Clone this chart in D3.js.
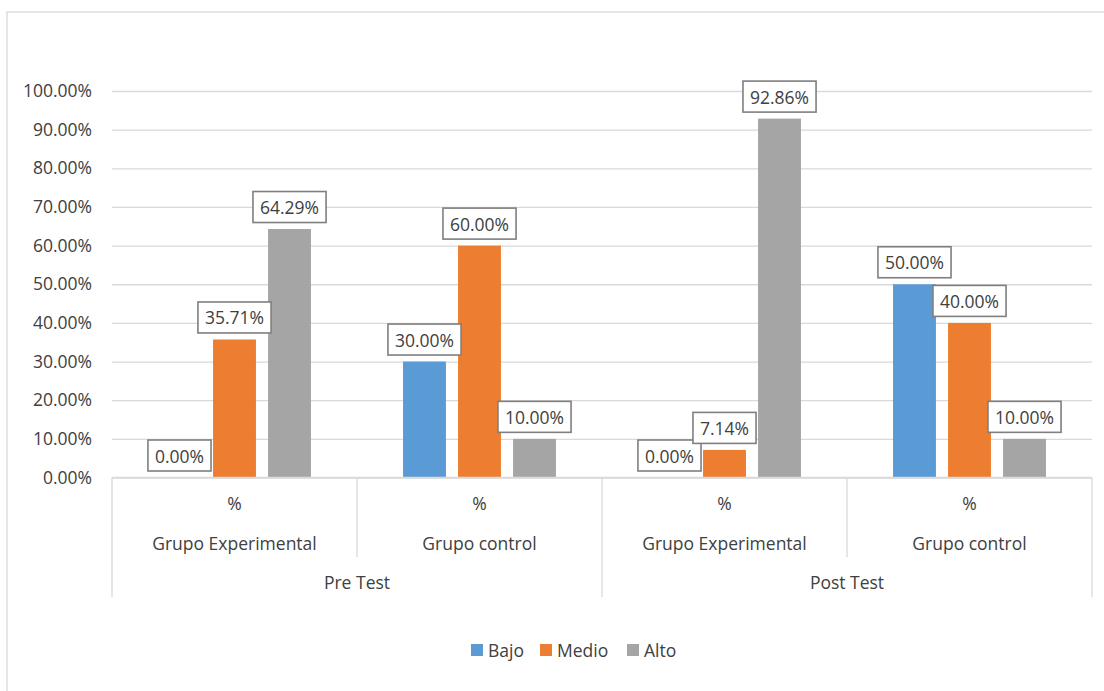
<!DOCTYPE html>
<html>
<head>
<meta charset="utf-8">
<script src="https://cdn.jsdelivr.net/npm/d3@7"></script>
<style>
  html, body { margin: 0; padding: 0; background: #fff; }
  svg text { font-family: "Open Sans", "Noto Sans", sans-serif; fill: #404040; }
</style>
</head>
<body>
<svg id="chart" width="1104" height="691"></svg>
<script>
// ---------------------------------------------------------------------------
// Data
// ---------------------------------------------------------------------------
const series = ["Bajo", "Medio", "Alto"];
const seriesColors = ["#5b9bd5", "#ed7d31", "#a5a5a5"];

const phases = ["Pre Test", "Post Test"];
const groups = ["Grupo Experimental", "Grupo control"];
const subLabel = "%";

// one row per phase/group, values in order Bajo, Medio, Alto
const preExperimental = [0.0, 0.3571, 0.6429];
const preControl = [0.30, 0.60, 0.10];
const postExperimental = [0.0, 0.0714, 0.9286];
const postControl = [0.50, 0.40, 0.10];

const yTicks = [0, 0.1, 0.2, 0.3, 0.4, 0.5, 0.6, 0.7, 0.8, 0.9, 1.0];

// ---------------------------------------------------------------------------
// Build rows
// ---------------------------------------------------------------------------
const rows = [
  { phase: phases[0], group: groups[0], values: preExperimental },
  { phase: phases[0], group: groups[1], values: preControl },
  { phase: phases[1], group: groups[0], values: postExperimental },
  { phase: phases[1], group: groups[1], values: postControl }
].map((r, i) => ({ ...r, key: "c" + i }));

// ---------------------------------------------------------------------------
// Layout
// ---------------------------------------------------------------------------
const svg = d3.select("#chart");
const plot = { left: 112, right: 1092, top: 91, bottom: 477.5 };

const x0 = d3.scaleBand()
  .domain(rows.map(r => r.key))
  .range([plot.left, plot.right]);

const x1 = d3.scaleBand()
  .domain(series)
  .range([0, x0.bandwidth()])
  .paddingInner(0.22)
  .paddingOuter(0.837);

const y = d3.scaleLinear()
  .domain([0, 1])
  .range([plot.bottom, plot.top]);

const color = d3.scaleOrdinal().domain(series).range(seriesColors);
const pct = d3.format(".2%");

// chart frame (extends past the picture on the right / bottom)
svg.append("rect")
  .attr("x", 7).attr("y", 12)
  .attr("width", 1110).attr("height", 700)
  .attr("fill", "none")
  .attr("stroke", "#d9d9d9")
  .attr("stroke-width", 1.3);

// gridlines + y labels
const yAxis = d3.axisLeft(y)
  .tickValues(yTicks)
  .tickFormat(pct)
  .tickSize(-(plot.right - plot.left))
  .tickPadding(20);

const gy = svg.append("g")
  .attr("transform", `translate(${plot.left},0)`)
  .call(yAxis);
gy.select(".domain").remove();
gy.selectAll(".tick line")
  .attr("stroke", "#d9d9d9")
  .attr("stroke-width", 1.3);
gy.selectAll(".tick text")
  .style("font-size", "17.5px")
  .attr("fill", "#404040");

// bars
const barG = svg.append("g");
rows.forEach(r => {
  barG.append("g")
    .attr("transform", `translate(${x0(r.key)},0)`)
    .selectAll("rect")
    .data(series.map((s, i) => ({ s, v: r.values[i] })))
    .join("rect")
    .attr("x", d => x1(d.s))
    .attr("width", x1.bandwidth())
    .attr("y", d => y(d.v))
    .attr("height", d => y(0) - y(d.v))
    .attr("fill", d => color(d.s));
});

// category axis (multi-level)
const axisColor = "#d9d9d9";
const axG = svg.append("g");
axG.append("line")
  .attr("x1", plot.left).attr("x2", plot.right)
  .attr("y1", plot.bottom).attr("y2", plot.bottom)
  .attr("stroke", axisColor).attr("stroke-width", 1.3);

const level1Bottom = 557;
const level2Bottom = 597;

// dividers between groups inside a phase
rows.forEach((r, i) => {
  const xl = x0(r.key);
  const isPhaseStart = i % 2 === 0;
  axG.append("line")
    .attr("x1", xl).attr("x2", xl)
    .attr("y1", plot.bottom).attr("y2", isPhaseStart ? level2Bottom : level1Bottom)
    .attr("stroke", axisColor).attr("stroke-width", 1.3);
});
axG.append("line")
  .attr("x1", plot.right).attr("x2", plot.right)
  .attr("y1", plot.bottom).attr("y2", level2Bottom)
  .attr("stroke", axisColor).attr("stroke-width", 1.3);

rows.forEach(r => {
  const cx = x0(r.key) + x0.bandwidth() / 2;
  axG.append("text")
    .attr("x", cx).attr("y", 503)
    .attr("text-anchor", "middle").attr("dominant-baseline", "central")
    .style("font-size", "17.5px")
    .text(subLabel);
  axG.append("text")
    .attr("x", cx).attr("y", 543)
    .attr("text-anchor", "middle").attr("dominant-baseline", "central")
    .style("font-size", "17.5px")
    .text(r.group);
});

phases.forEach(p => {
  const keys = rows.filter(r => r.phase === p).map(r => r.key);
  const xa = x0(keys[0]);
  const xb = x0(keys[keys.length - 1]) + x0.bandwidth();
  axG.append("text")
    .attr("x", (xa + xb) / 2).attr("y", 582)
    .attr("text-anchor", "middle").attr("dominant-baseline", "central")
    .style("font-size", "17.5px")
    .text(p);
});

// data labels with boxes
const labG = svg.append("g");
rows.forEach(r => {
  series.forEach((s, i) => {
    const v = r.values[i];
    const cx = x0(r.key) + x1(s) + x1.bandwidth() / 2;
    const boxBottom = y(v) - 6.5;
    const boxH = 31;
    const g = labG.append("g");
    const rect = g.append("rect")
      .attr("fill", "#fff")
      .attr("stroke", "#7f7f7f")
      .attr("stroke-width", 1.6);
    const t = g.append("text")
      .attr("x", cx).attr("y", boxBottom - boxH / 2)
      .attr("text-anchor", "middle").attr("dominant-baseline", "central")
      .style("font-size", "17.5px")
      .text(pct(v));
    const w = t.node().getComputedTextLength() + 14;
    rect.attr("x", cx - w / 2).attr("y", boxBottom - boxH)
      .attr("width", w).attr("height", boxH);
  });
});

// legend
const legend = svg.append("g");
const legendX = [471, 540, 627];
series.forEach((s, i) => {
  legend.append("rect")
    .attr("x", legendX[i]).attr("y", 644)
    .attr("width", 12).attr("height", 12)
    .attr("fill", color(s));
  legend.append("text")
    .attr("x", legendX[i] + 17).attr("y", 650)
    .attr("dominant-baseline", "central")
    .style("font-size", "17.5px")
    .text(s);
});
</script>
</body>
</html>
